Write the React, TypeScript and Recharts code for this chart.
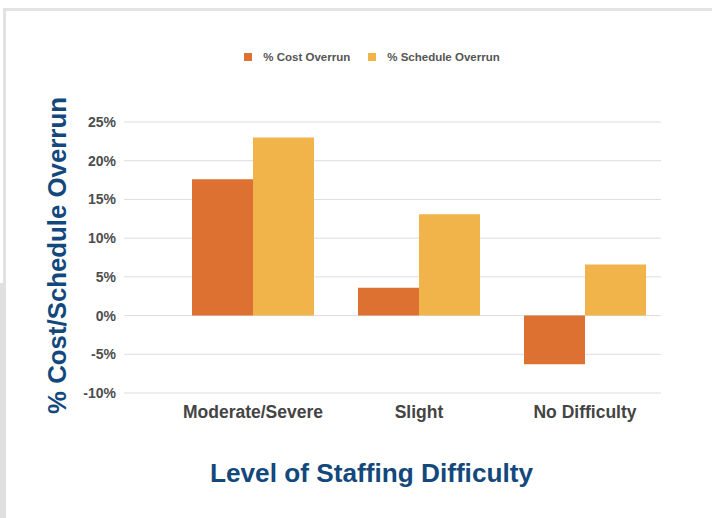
import { BarChart, Bar, CartesianGrid, XAxis, YAxis, Legend, Label } from "recharts"

const categories = ["Moderate/Severe", "Slight", "No Difficulty"]
const costOverrun = [17.6, 3.6, -6.3]
const scheduleOverrun = [23.0, 13.1, 6.6]
const yTicks = [-10, -5, 0, 5, 10, 15, 20, 25]

const data = categories.map((level, i) => ({
  level,
  cost: costOverrun[i],
  schedule: scheduleOverrun[i],
}))

const FONT = '"Liberation Sans", Arial, sans-serif'
const TITLE_BLUE = "#13487d"

function LegendContent({ payload }: any) {
  return (
    <div style={{ display: "flex", justifyContent: "center", alignItems: "center", fontFamily: FONT }}>
      {(payload || []).map((p: any) => (
        <div key={p.value} style={{ display: "flex", alignItems: "center", marginRight: 18 }}>
          <span style={{ width: 8, height: 8, background: p.color, display: "inline-block", marginRight: 11 }} />
          <span style={{ fontSize: 11.5, fontWeight: 700, color: "#555" }}>{p.value}</span>
        </div>
      ))}
    </div>
  )
}

export default function App() {
  return (
    <div style={{ position: "absolute", left: 0, top: 0, width: 712, height: 518, background: "#fff", overflow: "hidden" }}>
      {/* card frame */}
      <div style={{ position: "absolute", left: 3, top: 8, width: 709, height: 3, background: "#e2e2e2" }} />
      <div style={{ position: "absolute", left: 3, top: 8, width: 3, height: 276, background: "#e2e2e2" }} />
      <div style={{ position: "absolute", left: 0, top: 283, width: 6, height: 235, background: "#dfe0df" }} />
      <div style={{ position: "absolute", left: 0, top: 0 }}>
        <BarChart
          width={712}
          height={518}
          data={data}
          margin={{ top: 122, right: 51, left: 0, bottom: 65 }}
          barGap={0}
          style={{ fontFamily: FONT }}
        >
          <CartesianGrid vertical={false} stroke="#dcdce5" />
          <XAxis
            dataKey="level"
            axisLine={false}
            tickLine={false}
            tickMargin={7}
            height={60}
            padding={{ left: 46, right: -7 }}
            tick={{ fill: "#444", fontSize: 17.5, fontWeight: 700, fontFamily: FONT }}
          >
            <Label
              content={({ viewBox }: any) => (
                <text
                  x={viewBox.x + viewBox.width / 2 - 21}
                  y={viewBox.y + 89}
                  textAnchor="middle"
                  fill={TITLE_BLUE}
                  fontSize={26.2}
                  fontWeight={700}
                  fontFamily={FONT}
                >
                  Level of Staffing Difficulty
                </text>
              )}
            />
          </XAxis>
          <YAxis
            width={124}
            domain={[-10, 25]}
            ticks={yTicks}
            interval={0}
            axisLine={false}
            tickLine={false}
            tickFormatter={(v: number) => `${v}%`}
            tick={{ fill: "#4d4d4d", fontSize: 14, fontWeight: 700, fontFamily: FONT }}
          >
            <Label
              content={({ viewBox }: any) => {
                const cx = viewBox.x + 57
                const cy = viewBox.y + viewBox.height / 2 - 2
                return (
                  <text
                    x={cx}
                    y={cy}
                    transform={`rotate(-90 ${cx} ${cy})`}
                    textAnchor="middle"
                    dominantBaseline="central"
                    fill={TITLE_BLUE}
                    fontSize={25.8}
                    fontWeight={700}
                    fontFamily={FONT}
                  >
                    % Cost/Schedule Overrun
                  </text>
                )
              }}
            />
          </YAxis>
          <Legend
            verticalAlign="middle"
            align="center"
            layout="horizontal"
            wrapperStyle={{ top: 51, left: 25, width: 712 }}
            content={<LegendContent />}
          />
          <Bar dataKey="cost" name="% Cost Overrun" fill="#dd7131" barSize={61} isAnimationActive={false} />
          <Bar dataKey="schedule" name="% Schedule Overrun" fill="#f1b44b" barSize={61} isAnimationActive={false} />
        </BarChart>
      </div>
    </div>
  )
}
